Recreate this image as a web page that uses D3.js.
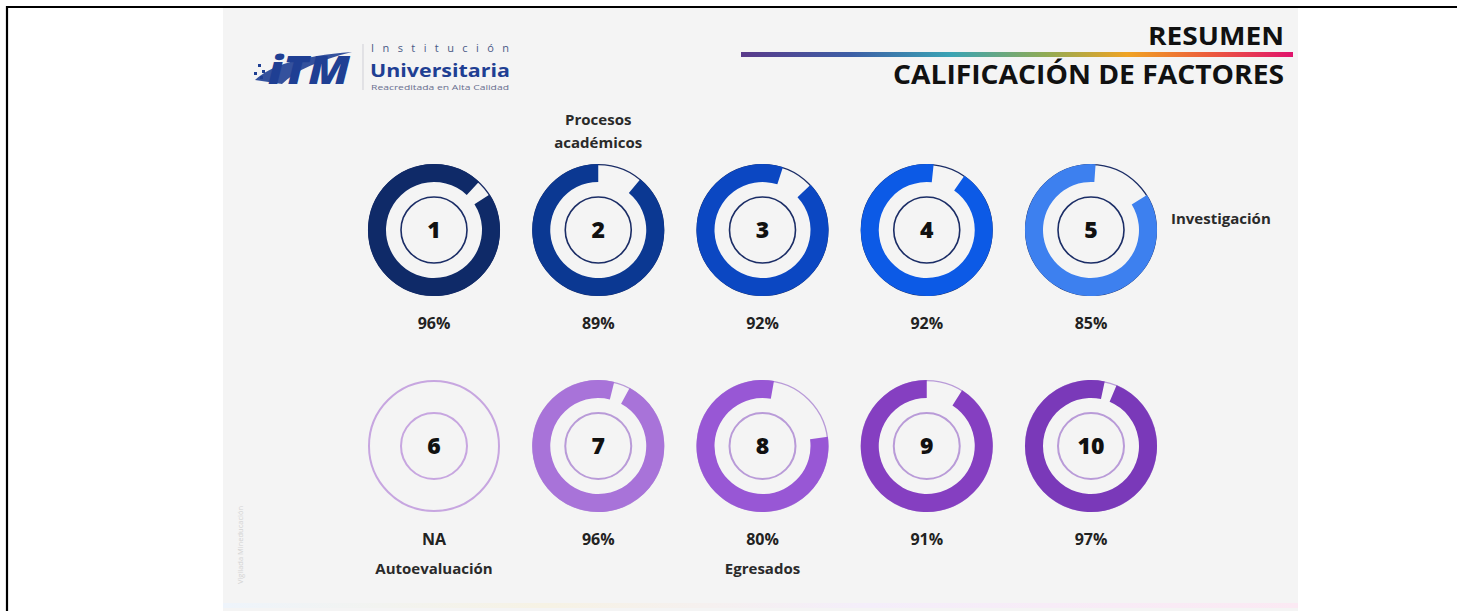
<!DOCTYPE html>
<html><head><meta charset="utf-8">
<script src="https://cdn.jsdelivr.net/npm/d3@7"></script>
<style>html,body{margin:0;padding:0;background:#fff;}svg{display:block;}</style>
</head><body>
<svg id="c" width="1457" height="611"></svg>
<script>
// ---- data ----
const factors = ["1","2","3","4","5","6","7","8","9","10"];
const values = [96, 89, 92, 92, 85, null, 96, 80, 91, 97];
const valueLabels = ["96%","89%","92%","92%","85%","NA","96%","80%","91%","97%"];
const gapOffsetDeg = [43, 0, 18, 6, 4, 0, 14, 10, 0, 12]; // angle where the empty part begins
const fillColors = ["#0f2a68","#0b3892","#0b47c2","#0c5ae6","#3d80ef","#c7a6e0","#a873d9","#9857d5","#853fc1","#7a39b9"];
const rowOf = [0,0,0,0,0,1,1,1,1,1];
const colOf = [0,1,2,3,4,0,1,2,3,4];
const categoryNotes = [
  {factor:"2", lines:["Procesos","académicos"], pos:"above"},
  {factor:"5", lines:["Investigación"], pos:"right"},
  {factor:"6", lines:["Autoevaluación"], pos:"below"},
  {factor:"8", lines:["Egresados"], pos:"below"}
];
const titleLines = ["RESUMEN","CALIFICACIÓN DE FACTORES"];

// ---- drawing ----
const svg = d3.select("#c");
const W = 1457, H = 611;

// slide background
svg.append("rect").attr("x",0).attr("y",0).attr("width",W).attr("height",H).attr("fill","#ffffff");
svg.append("rect").attr("x",223).attr("y",7).attr("width",1075).attr("height",604).attr("fill","#f4f4f4");
const sg = svg.append("defs").append("linearGradient").attr("id","strip").attr("x1","0").attr("x2","1");
[["0","#eef4fb"],["0.3","#f6f2e4"],["0.6","#f4eefa"],["1","#fbe9f3"]].forEach(d=>sg.append("stop").attr("offset",d[0]).attr("stop-color",d[1]));
svg.append("rect").attr("x",223).attr("y",603).attr("width",1075).attr("height",5).attr("fill","url(#strip)");

// frame lines
svg.append("line").attr("x1",6).attr("x2",1457).attr("y1",7).attr("y2",7).attr("stroke","#000").attr("stroke-width",2.2);
svg.append("line").attr("x1",7).attr("x2",7).attr("y1",6).attr("y2",611).attr("stroke","#000").attr("stroke-width",2.2);

// logo
const logo = svg.append("g");
logo.append("path")
  .attr("d","M255,80 C270,66 300,56 352,52 C320,60 296,70 282,84 Z")
  .attr("fill","#1f3f93").attr("opacity",0.9);
logo.append("text").attr("x",268).attr("y",84)
  .attr("font-family","Open Sans, sans-serif").attr("font-weight",800).attr("font-style","italic")
  .attr("font-size",38).attr("fill","#1f3f93").attr("textLength",82).attr("lengthAdjust","spacingAndGlyphs").text("iTM");
[[258,64],[262,70],[254,72],[260,76]].forEach(p=>logo.append("rect").attr("x",p[0]).attr("y",p[1]).attr("width",3).attr("height",3).attr("fill","#1f3f93"));
logo.append("line").attr("x1",363).attr("x2",363).attr("y1",44).attr("y2",90).attr("stroke","#cfcfd6").attr("stroke-width",1);
logo.append("text").attr("x",371).attr("y",52).attr("font-family","Open Sans, sans-serif").attr("font-size",11)
  .attr("fill","#4a5a86").attr("textLength",138).attr("lengthAdjust","spacing").text("Institución");
logo.append("text").attr("x",370).attr("y",77).attr("font-family","Open Sans, sans-serif").attr("font-weight",700).attr("font-size",18)
  .attr("fill","#1f3f93").attr("textLength",140).attr("lengthAdjust","spacingAndGlyphs").text("Universitaria");
logo.append("text").attr("x",371).attr("y",90).attr("font-family","Open Sans, sans-serif").attr("font-size",6.5)
  .attr("fill","#6a7090").attr("textLength",138).attr("lengthAdjust","spacingAndGlyphs").text("Reacreditada en Alta Calidad");

// vertical faint text
svg.append("text").attr("transform","translate(243,545) rotate(-90)").attr("text-anchor","middle")
  .attr("font-family","Open Sans, sans-serif").attr("font-size",7.5).attr("fill","#d3d3d3").text("Vigilada Mineducación");

// title
const tg = svg.append("defs").append("linearGradient").attr("id","bar").attr("x1","0").attr("x2","1");
[["0","#5a3a8a"],["0.2","#3d5fa6"],["0.38","#3aa3b4"],["0.55","#8fab55"],["0.7","#f0a323"],["0.85","#ec5a3c"],["1","#e0136d"]]
  .forEach(d=>tg.append("stop").attr("offset",d[0]).attr("stop-color",d[1]));
svg.append("rect").attr("x",741).attr("y",52).attr("width",552).attr("height",5).attr("fill","url(#bar)");
svg.append("text").attr("x",1284).attr("y",45).attr("text-anchor","end")
  .attr("font-family","Open Sans, sans-serif").attr("font-weight",700).attr("font-size",25).attr("fill","#111")
  .attr("textLength",136).attr("lengthAdjust","spacingAndGlyphs").text(titleLines[0]);
svg.append("text").attr("x",1284).attr("y",84).attr("text-anchor","end")
  .attr("font-family","Open Sans, sans-serif").attr("font-weight",700).attr("font-size",27).attr("fill","#111")
  .attr("textLength",391).attr("lengthAdjust","spacingAndGlyphs").text(titleLines[1]);

// scales
const x = d3.scalePoint().domain(d3.range(5)).range([434, 1091]);
const y = d3.scalePoint().domain([0,1]).range([230, 446]);
const angle = d3.scaleLinear().domain([0,100]).range([0, 2*Math.PI]);
const R = 66, r0 = 48, rc = 33;
const arc = d3.arc().innerRadius(r0).outerRadius(R);

const g = svg.selectAll("g.donut").data(factors).join("g").attr("class","donut")
  .attr("transform",(d,i)=>`translate(${x(colOf[i])},${y(rowOf[i])})`);

g.each(function(d,i){
  const el = d3.select(this);
  const top = rowOf[i] === 0;
  const lineCol = top ? "#1b2d66" : "#b99bd8";
  const v = values[i];
  el.append("circle").attr("r", v==null ? R-1 : R-0.6).attr("fill","none").attr("stroke", v==null ? fillColors[i] : lineCol)
    .attr("stroke-width", v==null ? 2 : 1.3);
  if (v != null) {
    const gapStart = gapOffsetDeg[i]*Math.PI/180;
    const gapEnd = gapStart + angle(100 - v);
    el.append("path").attr("d", arc({startAngle: gapEnd, endAngle: gapStart + 2*Math.PI})).attr("fill", fillColors[i]);
  }
  el.append("circle").attr("r", rc).attr("fill","none").attr("stroke", v==null ? fillColors[i] : lineCol)
    .attr("stroke-width", top ? 1.6 : 2);
  el.append("text").attr("text-anchor","middle").attr("dy","0.35em")
    .attr("font-family","Open Sans, sans-serif").attr("font-weight",800).attr("font-size",23).attr("fill","#111").text(d);
  el.append("text").attr("y", 93).attr("text-anchor","middle").attr("dy","0.35em")
    .attr("font-family","Open Sans, sans-serif").attr("font-weight",700).attr("font-size",16).attr("fill","#222").text(valueLabels[i]);
});

// category notes
categoryNotes.forEach(n=>{
  const i = factors.indexOf(n.factor);
  const cx = x(colOf[i]), cy = y(rowOf[i]);
  n.lines.forEach((t,k)=>{
    let tx = cx, ty, anchor = "middle";
    if (n.pos === "above") ty = cy - 110 + k*23;
    else if (n.pos === "below") ty = cy + 123 + k*23;
    else { tx = cx + 80; ty = cy - 11; anchor = "start"; }
    svg.append("text").attr("x",tx).attr("y",ty).attr("text-anchor",anchor).attr("dy","0.35em")
      .attr("font-family","Open Sans, sans-serif").attr("font-weight",700).attr("font-size",15).attr("fill","#2a2a2a").text(t);
  });
});
</script>
</body></html>
